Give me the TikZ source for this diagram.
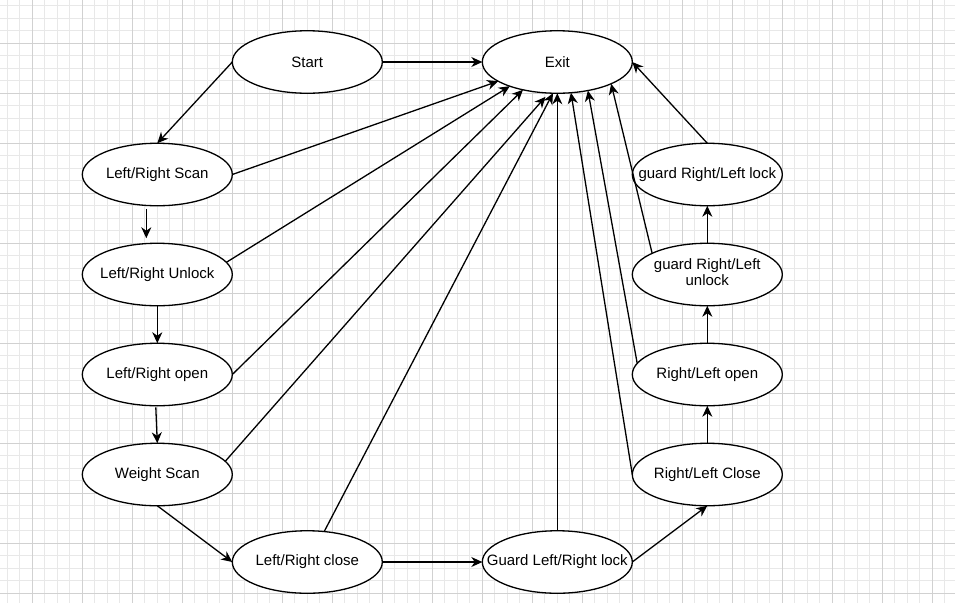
\documentclass[tikz,border=0pt]{standalone}
\usepackage{fontspec}
\setmainfont{Liberation Sans}
\usetikzlibrary{shapes.geometric,arrows.meta,calc}
\tikzset{
  st/.style={ellipse, draw=black, line width=1.3pt, fill=white, minimum width=150pt, minimum height=62.5pt, inner sep=0pt, outer sep=0pt, font=\fontsize{15}{17}\selectfont, text=black},
  arr/.style={draw=black, line width=1.3pt, -{Stealth[length=11pt,width=10pt,inset=3.5pt]}},
  minorgrid/.style={draw=black!9, line width=0.8pt},
  majorgrid/.style={draw=black!18, line width=0.8pt}
}
\newcommand{\lbl}[1]{\raisebox{-1pt}{\makebox[0pt][c]{#1}}}
\begin{document}
\begin{tikzpicture}[x=1pt,y=-1pt]
\useasboundingbox (0,0) rectangle (955,603);
\fill[white] (0,0) rectangle (955,603);
% grid
\foreach \i in {0,...,76} {\draw[minorgrid] (7.3+12.5*\i,0) -- (7.3+12.5*\i,603);}
\foreach \i in {0,...,48} {\draw[minorgrid] (0,5.8+12.5*\i) -- (955,5.8+12.5*\i);}
\foreach \i in {0,...,18} {\draw[majorgrid] (32.3+50*\i,0) -- (32.3+50*\i,603);}
\foreach \i in {0,...,11} {\draw[majorgrid] (0,43.3+50*\i) -- (955,43.3+50*\i);}
% nodes
\node[st] (start) at (307.3,62) {\lbl{Start}};
\node[st] (exit) at (557.3,62) {\lbl{Exit}};
\node[st] (scan) at (157.3,174.5) {\lbl{Left/Right Scan}};
\node[st] (unlock) at (157.3,274.5) {\lbl{Left/Right Unlock}};
\node[st] (open) at (157.3,374.5) {\lbl{Left/Right open}};
\node[st] (weight) at (157.3,474.5) {\lbl{Weight Scan}};
\node[st] (close) at (307.3,562) {\lbl{Left/Right close}};
\node[st] (guard) at (557.3,562) {\lbl{Guard Left/Right lock}};
\node[st] (rlclose) at (707.3,474.5) {\lbl{Right/Left Close}};
\node[st] (rlopen) at (707.3,374.5) {\lbl{Right/Left open}};
\node[st] (rlunlock) at (707.3,274.5) {\lbl{\begin{tabular}{@{}c@{}}guard Right/Left\\[-1pt]unlock\end{tabular}}};
\node[st] (rllock) at (707.3,174.5) {\lbl{guard Right/Left lock}};
% connectors
\draw[arr] (start.east) -- (exit.west);
\draw[arr] (start.west) -- (scan.north);
\draw[arr] (scan.east) -- (exit.198);
\draw[arr] ($(scan.south)+(-11,3)$) -- ($(unlock.north)+(-11,-5)$);
\draw[arr] (unlock.10) -- (exit.207);
\draw[arr] (unlock.south) -- (open.north);
\draw[arr] (open.east) -- (exit.219);
\draw[arr] ($(open.south)+(-1.5,1.5)$) -- (weight.north);
\draw[arr] (weight.11) -- ($(exit.249)+(0,4)$);
\draw[arr] (weight.south) -- (close.west);
\draw[arr] (close.61) -- (exit.262);
\draw[arr] (close.east) -- (guard.west);
\draw[arr] (guard.north) -- (exit.south);
\draw[arr] (guard.east) -- (rlclose.south);
\draw[arr] (rlclose.west) -- (exit.294);
\draw[arr] (rlclose.north) -- (rlopen.south);
\draw[arr] (rlopen.171) -- (exit.317);
\draw[arr] (rlopen.north) -- (rlunlock.south);
\draw[arr] (rlunlock.159) -- (exit.338);
\draw[arr] (rlunlock.north) -- (rllock.south);
\draw[arr] (rllock.north) -- (exit.east);
\end{tikzpicture}
\end{document}
